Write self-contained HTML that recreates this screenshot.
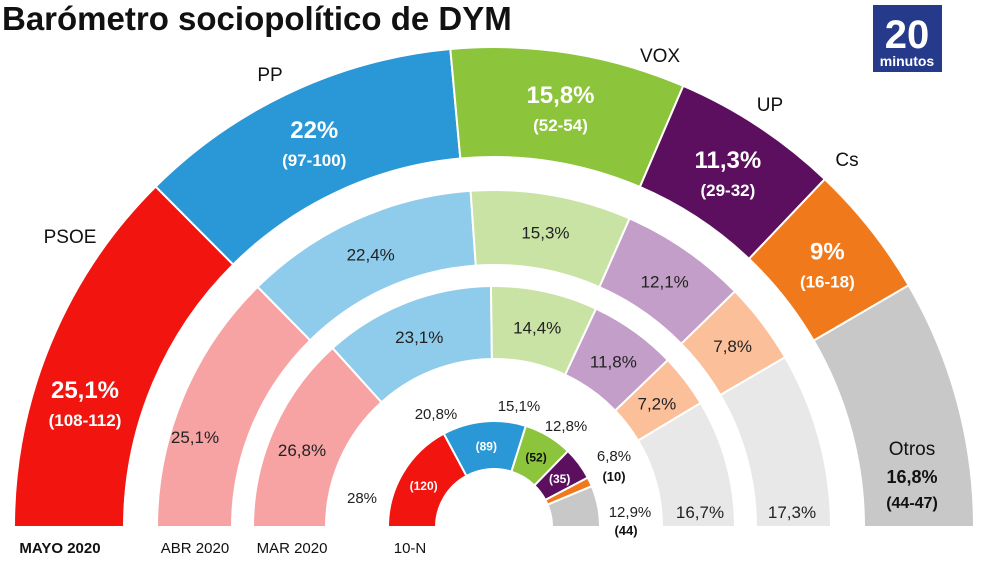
<!DOCTYPE html>
<html><head><meta charset="utf-8"><style>
body{margin:0;background:#fff;width:990px;height:556px;overflow:hidden;font-family:"Liberation Sans",sans-serif}
svg text{font-family:"Liberation Sans",sans-serif}
</style></head><body>
<svg id="c" width="990" height="556">
<text x="2" y="30" font-size="33" font-weight="bold" fill="#111">Barómetro sociopolítico de DYM</text>
<g><rect x="873" y="5" width="69" height="67" fill="#263a8c"/><text x="907" y="48" font-size="40" font-weight="bold" fill="#fff" text-anchor="middle">20</text><text x="907" y="66" font-size="14" font-weight="bold" fill="#fff" text-anchor="middle">minutos</text></g>
</svg>
<script>
const parties=["PSOE","PP","VOX","UP","Cs","Otros"];
const mayo=[25.1,22,15.8,11.3,9,16.8];
const mayoSeats=["(108-112)","(97-100)","(52-54)","(29-32)","(16-18)","(44-47)"];
const abr=[25.1,22.4,15.3,12.1,7.8,16.7];
const mar=[26.8,23.1,14.4,11.8,7.2,17.3];
const nov=[28,20.8,15.1,12.8,6.8,12.9];
const novSeats=[120,89,52,35,10,44];
const strong=["#f2140f","#2a98d6","#8cc43c","#5c0f5e","#f07a1b","#c8c8c8"];
const light=["#f7a3a3","#8fcbea","#c9e3a4","#c39ec9","#fbc09a","#e8e8e8"];
const cx=494,cy=527,NS="http://www.w3.org/2000/svg";
const svg=document.getElementById('c');
function pt(r,f){const a=Math.PI*(1-f);return [cx+r*Math.cos(a),cy-r*Math.sin(a)];}
function el(t,at,p){const e=document.createElementNS(NS,t);for(const k in at)e.setAttribute(k,at[k]);(p||svg).appendChild(e);return e;}
function fmt(v){return String(v).replace('.',',')+'%';}
function ring(vals,ro,ri,cols,name){
  const tot=vals.reduce((a,b)=>a+b,0);let acc=0;const out=[];
  vals.forEach((v,i)=>{
    const f0=acc/tot,f1=(acc+v)/tot;acc+=v;
    const [x0,y0]=pt(ro,f0),[x1,y1]=pt(ro,f1),[x2,y2]=pt(ri,f1),[x3,y3]=pt(ri,f0);
    const p=el('path',{d:`M${x0},${y0}A${ro},${ro} 0 0 1 ${x1},${y1}L${x2},${y2}A${ri},${ri} 0 0 0 ${x3},${y3}Z`,fill:cols[i],stroke:'#fff','stroke-width':2});
    
    
    out.push((f0+f1)/2);
  });return out;
}
function txt(x,y,s,size,col,w,name){const t=el('text',{x:x,y:y,'font-size':size,fill:col,'font-weight':w||'normal','text-anchor':'middle'});t.textContent=s;

return t;}
const nameXY=[[70,243],[270,81],[660,62],[770,111],[847,166]];
const m1=ring(mayo,480,370,strong,'mayo-segment');
m1.forEach((f,i)=>{
  if(i<5){
    let [x,y]=pt(425,f);
    if(i==0){x=85;y=402;}
    txt(x,y-4,fmt(mayo[i]),24,'#fff','bold','mayo-value');
    txt(x,y+24,mayoSeats[i],17,'#fff','bold','mayo-seats');
    txt(nameXY[i][0],nameXY[i][1],parties[i],19,'#111','normal','party-label');
  } else {
    txt(912,455,'Otros',19,'#111','normal','party-label');
    txt(912,483,fmt(mayo[i]),18,'#111','bold','mayo-value');
    txt(912,508,mayoSeats[i],16,'#111','bold','mayo-seats');
  }
});
let abrOtros=null;
const m2=ring(abr,337,262,light,'abr-segment');
m2.forEach((f,i)=>{const [x,y]=pt(300,f);const t=txt(i==0?195:i==5?700:x,i==0?443:i==5?518:y+7,fmt(abr[i]),17,'#222','normal','abr-value');if(i==5)abrOtros=t;});
const m3=ring(mar,241,168,light,'mar-segment');
m3.forEach((f,i)=>{const [x,y]=pt(205,f);txt(i==0?302:i==5?792:x,i==0?456:i==5?518:y+7,fmt(mar[i]),17,'#222','normal','mar-value');});
svg.appendChild(abrOtros);
const m4=ring(novSeats,106,58,strong,'nov-segment');
const pos=[[362,503],[436,419],[519,411],[566,431],[614,461],[630,517]];
m4.forEach((f,i)=>{const [x,y]=pt(82,f);
  if(i<4)txt(x,y+5,'('+novSeats[i]+')',12,i==2?'#111':'#fff','bold','nov-seats');
  txt(pos[i][0],pos[i][1],fmt(nov[i]),15,'#222','normal','nov-value');
});
txt(614,481,'(10)',13,'#111','bold','nov-seats');
txt(626,535,'(44)',13,'#111','bold','nov-seats');
const xl=[[60,'MAYO 2020','bold'],[195,'ABR 2020','normal'],[292,'MAR 2020','normal'],[410,'10-N','normal']];
xl.forEach(d=>txt(d[0],553,d[1],15,'#111',d[2],'ring-label'));
</script>
</body></html>
